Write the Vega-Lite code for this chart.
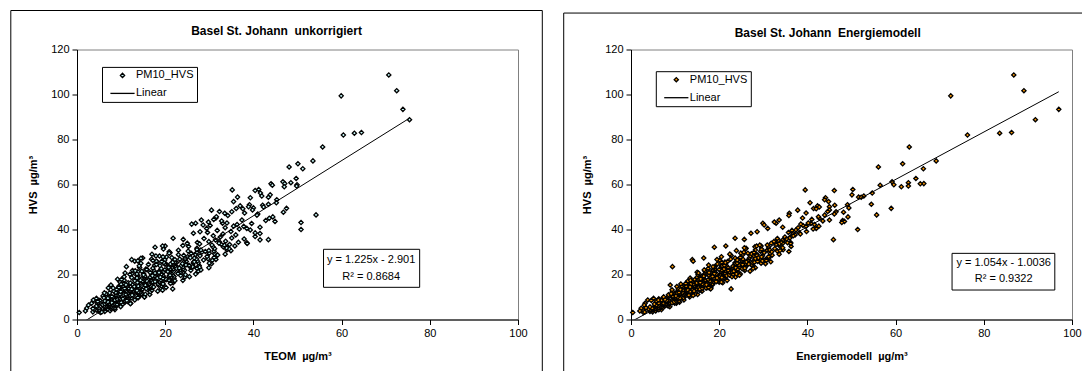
{
"$schema":"https://vega.github.io/schema/vega-lite/v6.json",
"padding":{"left":9,"top":9.5,"right":0,"bottom":0},
"background":"white",
"spacing":18,
"config":{
"view":{"stroke":"#808080","strokeWidth":1},
"font":"Liberation Sans",
"axis":{"labelFont":"Liberation Sans","labelFontSize":11,"labelColor":"black","titleFont":"Liberation Sans","titleFontSize":11,"titleFontWeight":"bold","titleColor":"black","domainColor":"black","tickColor":"black","tickSize":5,"grid":false,"labelPadding":3},
"title":{"font":"Liberation Sans","fontSize":12,"fontWeight":"bold","color":"black","anchor":"middle","frame":"bounds","baseline":"top"},
"legend":{"labelFont":"Liberation Sans","labelFontSize":11,"labelColor":"black"}
},
"resolve":{"scale":{"x":"independent","y":"independent","shape":"independent"},"legend":{"shape":"independent"}},
"datasets":{
"fitL":[{"t":0.5,"h":-2.29},{"t":75.4,"h":89.47}],
"fitR":[{"e":0.4,"h":-0.58},{"e":97.0,"h":101.23}],
"pm":[
{"t":0.5,"e":0.4,"h":3.1},{"t":2.2,"e":2.3,"h":5.0},{"t":3.3,"e":3.2,"h":7.2},{"t":2.6,"e":3.0,"h":6.4},{"t":4.4,"e":5.1,"h":9.4},{"t":3.7,"e":3.8,"h":8.7},{"t":5.2,"e":4.6,"h":8.5},{"t":1.9,"e":2.0,"h":3.8},
{"t":5.3,"e":2.8,"h":3.1},{"t":3.6,"e":4.9,"h":3.4},{"t":6.3,"e":4.3,"h":3.6},{"t":4.9,"e":5.6,"h":3.8},{"t":7.5,"e":2.9,"h":3.9},{"t":4.5,"e":5.0,"h":4.1},{"t":5.9,"e":4.3,"h":4.2},{"t":8.6,"e":6.9,"h":4.4},{"t":3.9,"e":4.9,"h":4.5},{"t":6.9,"e":5.8,"h":4.6},{"t":5.9,"e":4.0,"h":4.7},{"t":7.7,"e":6.4,"h":4.8},{"t":3.6,"e":5.6,"h":4.9},{"t":5.6,"e":3.1,"h":3.3},{"t":5.0,"e":6.3,"h":4.3},
{"t":8.5,"e":4.8,"h":5.0},{"t":4.9,"e":6.3,"h":5.1},{"t":6.6,"e":3.4,"h":5.2},{"t":8.1,"e":7.3,"h":5.3},{"t":4.5,"e":5.8,"h":5.4},{"t":7.7,"e":6.9,"h":5.5},{"t":6.5,"e":4.3,"h":5.6},{"t":9.9,"e":8.8,"h":5.7},{"t":6.1,"e":6.6,"h":5.8},{"t":7.5,"e":5.5,"h":5.9},{"t":4.4,"e":8.4,"h":6.0},{"t":9.0,"e":6.3,"h":6.1},{"t":7.3,"e":7.8,"h":6.2},{"t":8.6,"e":5.5,"h":6.3},{"t":5.8,"e":7.4,"h":6.4},{"t":8.2,"e":5.8,"h":6.5},{"t":5.8,"e":8.1,"h":6.6},{"t":9.1,"e":7.2,"h":6.7},{"t":7.3,"e":8.6,"h":6.8},{"t":10.4,"e":5.3,"h":6.9},
{"t":6.3,"e":7.9,"h":7.0},{"t":8.4,"e":6.9,"h":7.1},{"t":12.2,"e":10.3,"h":7.2},{"t":5.1,"e":7.5,"h":7.3},{"t":9.6,"e":8.7,"h":7.4},{"t":8.1,"e":6.1,"h":7.5},{"t":10.8,"e":9.4,"h":7.6},{"t":4.5,"e":8.3,"h":7.7},{"t":9.5,"e":7.0,"h":7.8},{"t":7.4,"e":10.3,"h":7.9},{"t":11.5,"e":7.6,"h":8.0},{"t":7.0,"e":9.2,"h":8.1},{"t":9.1,"e":5.8,"h":8.2},{"t":10.9,"e":10.4,"h":8.3},{"t":6.4,"e":8.6,"h":8.4},{"t":10.3,"e":9.9,"h":8.5},{"t":8.8,"e":6.9,"h":8.6},{"t":13.1,"e":12.0,"h":8.7},{"t":8.4,"e":9.4,"h":8.8},{"t":10.0,"e":8.1,"h":8.9},{"t":4.7,"e":9.9,"h":7.25},{"t":11.0,"e":8.1,"h":8.15},
{"t":9.5,"e":10.8,"h":9.0},{"t":11.5,"e":7.7,"h":9.1},{"t":7.2,"e":10.2,"h":9.2},{"t":10.7,"e":8.0,"h":9.3},{"t":7.2,"e":11.0,"h":9.4},{"t":12.0,"e":9.8,"h":9.5},{"t":9.2,"e":11.7,"h":9.6},{"t":13.9,"e":7.3,"h":9.7},{"t":8.2,"e":10.6,"h":9.8},{"t":10.7,"e":9.4,"h":9.9},{"t":15.3,"e":13.3,"h":10.0},{"t":6.8,"e":10.1,"h":10.1},{"t":12.1,"e":11.4,"h":10.2},{"t":10.3,"e":8.5,"h":10.3},{"t":13.5,"e":12.3,"h":10.4},{"t":5.9,"e":10.9,"h":10.5},{"t":12.0,"e":9.4,"h":10.6},{"t":9.4,"e":13.2,"h":10.7},{"t":14.3,"e":10.1,"h":10.8},{"t":8.9,"e":11.9,"h":10.9},{"t":9.8,"e":6.3,"h":9.15},{"t":12.4,"e":11.9,"h":9.65},{"t":7.4,"e":10.4,"h":10.25},{"t":12.3,"e":12.1,"h":10.75},
{"t":10.5,"e":8.5,"h":11.0},{"t":16.5,"e":15.1,"h":11.1},{"t":9.8,"e":11.8,"h":11.2},{"t":12.2,"e":10.1,"h":11.3},{"t":6.6,"e":14.5,"h":11.4},{"t":14.6,"e":11.1,"h":11.5},{"t":11.6,"e":13.4,"h":11.6},{"t":13.9,"e":9.9,"h":11.7},{"t":8.9,"e":12.7,"h":11.8},{"t":12.9,"e":10.3,"h":11.9},{"t":8.8,"e":13.6,"h":12.0},{"t":14.5,"e":12.3,"h":12.1},{"t":11.2,"e":14.3,"h":12.2},{"t":16.6,"e":9.4,"h":12.3},{"t":10.0,"e":13.1,"h":12.4},{"t":12.9,"e":11.7,"h":12.5},{"t":18.3,"e":16.1,"h":12.6},{"t":8.3,"e":12.5,"h":12.7},{"t":14.5,"e":14.0,"h":12.8},{"t":12.3,"e":10.7,"h":12.9},{"t":14.7,"e":13.3,"h":11.35},{"t":6.2,"e":12.2,"h":11.85},{"t":13.7,"e":11.0,"h":12.45},{"t":11.0,"e":15.6,"h":12.95},
{"t":17.0,"e":11.9,"h":13.0},{"t":10.0,"e":14.2,"h":13.1},{"t":13.1,"e":9.3,"h":13.2},{"t":16.0,"e":15.8,"h":13.3},{"t":9.0,"e":13.3,"h":13.4},{"t":14.9,"e":15.0,"h":13.5},{"t":12.5,"e":10.7,"h":13.6},{"t":19.1,"e":18.0,"h":13.7},{"t":11.8,"e":14.2,"h":13.8},{"t":14.3,"e":12.3,"h":13.9},{"t":8.2,"e":17.2,"h":14.0},{"t":17.0,"e":13.5,"h":14.1},{"t":13.7,"e":16.0,"h":14.2},{"t":16.2,"e":12.1,"h":14.3},{"t":10.7,"e":15.2,"h":14.4},{"t":15.1,"e":12.5,"h":14.5},{"t":10.6,"e":16.2,"h":14.6},{"t":16.9,"e":14.7,"h":14.7},{"t":13.2,"e":17.0,"h":14.8},{"t":19.2,"e":11.5,"h":14.9},{"t":10.4,"e":13.9,"h":13.25},{"t":13.9,"e":12.8,"h":13.75},{"t":20.2,"e":18.1,"h":14.25},{"t":9.5,"e":14.3,"h":14.75},{"t":21.7,"e":22.7,"h":13.6},
{"t":16.7,"e":16.3,"h":15.0},{"t":14.0,"e":12.2,"h":15.1},{"t":18.5,"e":17.4,"h":15.2},{"t":7.7,"e":8.9,"h":15.3},{"t":16.3,"e":13.4,"h":15.4},{"t":12.6,"e":18.5,"h":15.5},{"t":19.5,"e":14.2,"h":15.6},{"t":11.8,"e":16.7,"h":15.7},{"t":15.3,"e":11.3,"h":15.8},{"t":18.4,"e":18.5,"h":15.9},{"t":10.7,"e":15.7,"h":16.0},{"t":17.2,"e":17.5,"h":16.1},{"t":14.6,"e":12.8,"h":16.2},{"t":21.8,"e":20.8,"h":16.3},{"t":13.7,"e":16.7,"h":16.4},{"t":16.5,"e":14.6,"h":16.5},{"t":9.8,"e":20.0,"h":16.6},{"t":19.4,"e":15.9,"h":16.7},{"t":15.7,"e":18.7,"h":16.8},{"t":18.5,"e":14.3,"h":16.9},{"t":11.2,"e":16.2,"h":15.35},{"t":16.3,"e":13.6,"h":15.85},{"t":11.6,"e":18.0,"h":16.35},{"t":18.8,"e":16.7,"h":16.85},
{"t":14.8,"e":19.5,"h":17.0},{"t":21.9,"e":12.9,"h":17.1},{"t":13.1,"e":17.8,"h":17.2},{"t":16.9,"e":15.9,"h":17.3},{"t":24.0,"e":21.8,"h":17.4},{"t":10.7,"e":16.8,"h":17.5},{"t":19.0,"e":18.9,"h":17.6},{"t":16.1,"e":14.4,"h":17.7},{"t":21.0,"e":20.0,"h":17.8},{"t":9.2,"e":17.9,"h":17.9},{"t":18.5,"e":15.6,"h":18.0},{"t":14.6,"e":21.2,"h":18.1},{"t":22.0,"e":16.5,"h":18.2},{"t":13.6,"e":19.3,"h":18.3},{"t":17.4,"e":13.4,"h":18.4},{"t":20.8,"e":21.1,"h":18.5},{"t":12.4,"e":18.1,"h":18.6},{"t":19.5,"e":20.1,"h":18.7},{"t":16.6,"e":15.0,"h":18.8},{"t":24.5,"e":23.7,"h":18.9},{"t":14.4,"e":17.8,"h":17.45},{"t":18.2,"e":16.3,"h":18.45},
{"t":10.7,"e":22.9,"h":19.0},{"t":22.0,"e":18.0,"h":19.1},{"t":17.6,"e":21.3,"h":19.2},{"t":20.9,"e":16.1,"h":19.3},{"t":13.8,"e":20.1,"h":19.4},{"t":19.5,"e":16.6,"h":19.5},{"t":13.6,"e":21.4,"h":19.6},{"t":21.7,"e":19.4,"h":19.7},{"t":16.9,"e":22.3,"h":19.8},{"t":24.6,"e":15.2,"h":19.9},{"t":15.1,"e":20.4,"h":20.0},{"t":19.2,"e":18.5,"h":20.1},{"t":26.9,"e":24.8,"h":20.2},{"t":12.5,"e":19.4,"h":20.3},{"t":21.4,"e":21.6,"h":20.4},{"t":18.3,"e":16.8,"h":20.5},{"t":23.6,"e":22.8,"h":20.6},{"t":10.9,"e":20.6,"h":20.7},{"t":21.0,"e":18.1,"h":20.8},{"t":16.6,"e":24.2,"h":20.9},{"t":23.5,"e":17.7,"h":19.55},{"t":15.1,"e":21.4,"h":20.45},
{"t":19.5,"e":15.0,"h":21.0},{"t":23.4,"e":24.1,"h":21.1},{"t":13.8,"e":20.5,"h":21.2},{"t":21.9,"e":22.8,"h":21.3},{"t":18.6,"e":16.8,"h":21.4},{"t":27.5,"e":27.0,"h":21.5},{"t":17.5,"e":21.7,"h":21.6},{"t":20.9,"e":19.0,"h":21.7},{"t":12.6,"e":25.8,"h":21.8},{"t":24.4,"e":20.6,"h":21.9},{"t":19.9,"e":24.1,"h":22.0},{"t":23.4,"e":18.6,"h":22.1},{"t":15.9,"e":22.9,"h":22.2},{"t":21.8,"e":19.0,"h":22.3},{"t":15.6,"e":24.2,"h":22.4},{"t":24.1,"e":22.0,"h":22.5},{"t":19.1,"e":25.2,"h":22.6},{"t":27.2,"e":17.5,"h":22.7},{"t":17.2,"e":23.1,"h":22.8},{"t":21.5,"e":21.0,"h":22.9},
{"t":29.9,"e":28.2,"h":23.0},{"t":14.2,"e":22.0,"h":23.1},{"t":24.0,"e":24.6,"h":23.3},{"t":20.6,"e":19.0,"h":23.4},{"t":26.4,"e":26.0,"h":23.5},{"t":11.2,"e":9.4,"h":23.5},{"t":23.6,"e":20.5,"h":23.8},{"t":18.8,"e":27.5,"h":23.9},{"t":27.7,"e":21.6,"h":24.0},{"t":17.6,"e":25.0,"h":24.1},{"t":22.1,"e":17.6,"h":24.2},{"t":26.2,"e":27.4,"h":24.4},{"t":16.2,"e":23.6,"h":24.5},{"t":24.7,"e":26.1,"h":24.6},{"t":21.2,"e":19.6,"h":24.7},{"t":30.5,"e":30.5,"h":24.8},{"t":20.1,"e":24.9,"h":24.9},{"t":22.5,"e":20.6,"h":23.6},
{"t":14.5,"e":29.5,"h":25.0},{"t":27.5,"e":23.6,"h":25.2},{"t":22.6,"e":27.5,"h":25.3},{"t":26.4,"e":21.3,"h":25.5},{"t":18.2,"e":26.2,"h":25.6},{"t":24.8,"e":21.9,"h":25.8},{"t":18.0,"e":27.8,"h":25.9},{"t":27.3,"e":25.3,"h":26.0},{"t":21.9,"e":29.0,"h":26.2},{"t":30.7,"e":20.1,"h":26.3},{"t":19.9,"e":26.7,"h":26.5},{"t":24.5,"e":24.3,"h":26.6},{"t":31.5,"e":30.5,"h":26.7},{"t":16.9,"e":25.4,"h":26.8},{"t":27.1,"e":28.1,"h":26.9},{"t":22.2,"e":20.6,"h":25.4},{"t":12.4,"e":13.9,"h":26.6},{"t":13.1,"e":14.1,"h":25.9},{"t":14.9,"e":16.5,"h":27.3},
{"t":29.7,"e":29.5,"h":27.0},{"t":14.5,"e":26.8,"h":27.2},{"t":26.6,"e":23.6,"h":27.3},{"t":21.5,"e":31.3,"h":27.5},{"t":31.1,"e":24.8,"h":27.6},{"t":20.3,"e":28.7,"h":27.8},{"t":25.1,"e":20.5,"h":27.9},{"t":29.5,"e":31.2,"h":28.0},{"t":18.7,"e":27.1,"h":28.2},{"t":27.9,"e":29.8,"h":28.3},{"t":24.2,"e":22.7,"h":28.5},{"t":31.8,"e":32.0,"h":28.6},{"t":23.0,"e":28.6,"h":28.8},{"t":26.9,"e":25.4,"h":28.9},
{"t":17.0,"e":33.6,"h":29.0},{"t":31.2,"e":27.3,"h":29.2},{"t":25.9,"e":31.6,"h":29.4},{"t":30.0,"e":24.9,"h":29.5},{"t":21.1,"e":30.2,"h":29.7},{"t":28.3,"e":25.6,"h":29.9},{"t":20.9,"e":31.9,"h":30.1},{"t":31.1,"e":29.4,"h":30.3},{"t":25.2,"e":33.2,"h":30.4},{"t":34.9,"e":23.9,"h":30.6},{"t":23.0,"e":30.9,"h":30.8},{"t":28.1,"e":28.2,"h":30.9},
{"t":34.0,"e":34.5,"h":31.0},{"t":19.6,"e":29.6,"h":31.3},{"t":31.2,"e":32.6,"h":31.5},{"t":27.2,"e":26.1,"h":31.7},{"t":34.1,"e":34.4,"h":31.9},{"t":17.7,"e":18.9,"h":32.1},{"t":30.8,"e":28.1,"h":32.3},{"t":25.3,"e":36.3,"h":32.5},{"t":35.8,"e":29.5,"h":32.7},{"t":24.0,"e":33.6,"h":32.9},
{"t":12.1,"e":7.4,"h":7.05},{"t":6.9,"e":6.3,"h":7.25},{"t":7.9,"e":9.3,"h":7.45},{"t":10.0,"e":11.0,"h":7.65},{"t":7.0,"e":9.8,"h":7.85},{"t":4.7,"e":10.4,"h":8.05},{"t":6.3,"e":10.9,"h":8.25},{"t":11.3,"e":8.1,"h":8.45},{"t":8.6,"e":6.2,"h":8.65},{"t":9.2,"e":7.7,"h":8.85},
{"t":9.8,"e":10.4,"h":9.05},{"t":10.4,"e":10.7,"h":9.25},{"t":7.0,"e":11.1,"h":9.45},{"t":6.1,"e":10.1,"h":9.65},{"t":13.8,"e":10.5,"h":9.85},{"t":15.3,"e":7.4,"h":10.05},{"t":7.9,"e":9.5,"h":10.25},{"t":11.2,"e":10.2,"h":10.45},{"t":12.1,"e":14.1,"h":10.65},{"t":12.5,"e":13.1,"h":10.85},
{"t":11.1,"e":11.9,"h":11.05},{"t":15.5,"e":9.2,"h":11.25},{"t":14.6,"e":9.1,"h":11.45},{"t":14.2,"e":11.8,"h":11.65},{"t":7.4,"e":10.5,"h":11.85},{"t":14.3,"e":10.9,"h":12.05},{"t":13.9,"e":12.9,"h":12.25},{"t":9.9,"e":13.4,"h":12.45},{"t":11.1,"e":14.3,"h":12.65},{"t":13.6,"e":12.6,"h":12.85},
{"t":19.4,"e":12.9,"h":13.05},{"t":10.9,"e":11.2,"h":13.25},{"t":12.4,"e":15.6,"h":13.45},{"t":15.7,"e":18.1,"h":13.65},{"t":10.8,"e":16.2,"h":13.85},{"t":7.1,"e":17.0,"h":14.05},{"t":9.5,"e":17.6,"h":14.25},{"t":17.4,"e":13.4,"h":14.45},{"t":13.0,"e":10.4,"h":14.65},{"t":13.9,"e":12.5,"h":14.85},
{"t":14.7,"e":16.3,"h":15.05},{"t":15.5,"e":16.7,"h":15.25},{"t":11.1,"e":17.1,"h":15.45},{"t":10.0,"e":15.8,"h":15.65},{"t":19.5,"e":16.2,"h":15.85},{"t":21.2,"e":12.4,"h":16.05},{"t":12.1,"e":14.9,"h":16.25},{"t":16.1,"e":15.7,"h":16.45},{"t":17.2,"e":20.5,"h":16.65},{"t":17.7,"e":19.3,"h":16.85},
{"t":15.9,"e":17.9,"h":17.05},{"t":22.2,"e":13.8,"h":17.25},{"t":20.8,"e":13.5,"h":17.45},{"t":20.2,"e":17.5,"h":17.65},{"t":10.1,"e":15.4,"h":17.85},{"t":20.1,"e":15.8,"h":18.05},{"t":19.5,"e":18.8,"h":18.25},{"t":13.6,"e":19.5,"h":18.45},{"t":15.3,"e":20.6,"h":18.65},{"t":18.9,"e":18.1,"h":18.85},
{"t":25.5,"e":18.5,"h":19.05},{"t":15.4,"e":16.5,"h":19.25},{"t":17.1,"e":21.7,"h":19.45},{"t":21.1,"e":24.6,"h":19.65},{"t":15.1,"e":22.3,"h":19.85},{"t":12.0,"e":23.2,"h":20.05},{"t":13.6,"e":23.9,"h":20.25},{"t":22.9,"e":18.9,"h":20.45},{"t":17.7,"e":15.3,"h":20.65},{"t":18.6,"e":17.7,"h":20.85},
{"t":19.6,"e":22.4,"h":21.05},{"t":20.6,"e":22.9,"h":21.25},{"t":14.7,"e":23.3,"h":21.45},{"t":13.2,"e":21.5,"h":21.65},{"t":25.8,"e":22.0,"h":21.85},{"t":28.1,"e":16.6,"h":22.05},{"t":15.8,"e":20.0,"h":22.25},{"t":21.1,"e":21.1,"h":22.45},{"t":22.6,"e":27.7,"h":22.65},{"t":23.2,"e":25.8,"h":22.85},
{"t":20.8,"e":23.7,"h":23.05},{"t":27.8,"e":18.9,"h":23.25},{"t":26.2,"e":18.6,"h":23.45},{"t":25.5,"e":23.1,"h":23.65},{"t":14.1,"e":20.7,"h":23.85},{"t":25.4,"e":21.2,"h":24.05},{"t":24.7,"e":24.5,"h":24.25},{"t":18.0,"e":25.3,"h":24.45},{"t":19.9,"e":26.7,"h":24.65},{"t":23.9,"e":23.7,"h":24.85},
{"t":30.0,"e":24.1,"h":25.05},{"t":19.7,"e":21.4,"h":25.25},{"t":21.7,"e":28.0,"h":25.45},{"t":26.6,"e":31.7,"h":25.65},{"t":19.2,"e":28.7,"h":25.85},{"t":13.8,"e":29.8,"h":26.05},{"t":17.2,"e":30.7,"h":26.25},{"t":28.7,"e":24.1,"h":26.45},{"t":22.2,"e":19.5,"h":26.65},{"t":23.3,"e":22.6,"h":26.85},
{"t":24.5,"e":28.2,"h":27.05},{"t":25.7,"e":28.9,"h":27.45},{"t":19.5,"e":29.6,"h":27.85},{"t":17.9,"e":27.8,"h":28.25},{"t":31.9,"e":28.5,"h":28.65},{"t":33.6,"e":22.4,"h":29.05},{"t":20.9,"e":26.5,"h":29.45},{"t":27.2,"e":27.9,"h":29.85},{"t":29.1,"e":35.8,"h":30.25},{"t":29.9,"e":33.8,"h":30.65},
{"t":27.2,"e":31.4,"h":31.05},{"t":34.5,"e":26.0,"h":31.45},{"t":33.9,"e":25.7,"h":31.85},{"t":33.2,"e":31.2,"h":32.25},{"t":20.0,"e":28.5,"h":32.65},{"t":33.4,"e":29.2,"h":33.05},{"t":32.7,"e":33.4,"h":33.45},{"t":25.0,"e":34.4,"h":33.85},{"t":27.3,"e":36.2,"h":34.25},{"t":32.2,"e":32.8,"h":34.65},
{"t":35.2,"e":39.5,"h":57.6},{"t":40.4,"e":46.1,"h":57.3},{"t":41.2,"e":50.3,"h":57.8},{"t":41.6,"e":54.7,"h":56.2},{"t":43.8,"e":50.1,"h":55.4},{"t":41.9,"e":52.8,"h":54.9},{"t":36.4,"e":51.6,"h":54.4},{"t":43.4,"e":52.2,"h":54.3},{"t":39.3,"e":44.1,"h":54.1},{"t":45.3,"e":43.9,"h":53.2},{"t":35.5,"e":44.8,"h":52.4},{"t":45.2,"e":40.6,"h":51.9},{"t":43.4,"e":54.5,"h":51.2},{"t":39.1,"e":49.1,"h":51.0},{"t":42.1,"e":46.2,"h":50.8},{"t":37.0,"e":42.3,"h":50.5},{"t":38.9,"e":45.0,"h":50.1},{"t":42.3,"e":42.7,"h":50.0},{"t":36.1,"e":41.4,"h":49.3},{"t":47.5,"e":59.0,"h":49.4},{"t":40.0,"e":49.4,"h":49.6},{"t":37.6,"e":42.0,"h":49.2},{"t":39.8,"e":45.0,"h":48.7},{"t":30.5,"e":37.8,"h":48.6},{"t":32.3,"e":44.6,"h":48.0},{"t":35.1,"e":46.5,"h":47.9},{"t":46.8,"e":48.2,"h":47.7},{"t":33.5,"e":35.9,"h":47.2},{"t":38.0,"e":39.7,"h":47.3},{"t":41.0,"e":46.1,"h":46.9},{"t":54.2,"e":55.7,"h":46.5},{"t":34.2,"e":35.8,"h":46.2},{"t":40.8,"e":43.9,"h":46.4},{"t":44.4,"e":49.2,"h":45.6},{"t":31.5,"e":38.9,"h":45.1},{"t":43.6,"e":42.7,"h":45.0},{"t":37.4,"e":45.0,"h":44.2},{"t":42.8,"e":48.0,"h":44.0},{"t":44.9,"e":48.4,"h":43.6},{"t":50.8,"e":47.8,"h":43.1},{"t":36.3,"e":41.6,"h":42.2},{"t":39.6,"e":40.8,"h":42.7},{"t":33.0,"e":32.9,"h":42.8},{"t":37.8,"e":39.7,"h":41.4},{"t":41.5,"e":34.4,"h":41.0},{"t":38.5,"e":42.0,"h":40.5},{"t":50.8,"e":51.4,"h":40.0},{"t":39.3,"e":37.4,"h":39.8},{"t":40.4,"e":38.2,"h":38.5},{"t":41.5,"e":36.8,"h":38.2},{"t":40.4,"e":36.3,"h":36.9},{"t":41.5,"e":34.8,"h":35.4},{"t":43.4,"e":45.9,"h":35.5},{"t":38.5,"e":35.5,"h":34.1},
{"t":31.0,"e":41.0,"h":44.5},{"t":32.8,"e":43.5,"h":43.8},{"t":34.0,"e":40.2,"h":42.9},{"t":30.2,"e":39.0,"h":41.8},{"t":35.5,"e":42.6,"h":41.5},{"t":33.6,"e":37.9,"h":40.8},{"t":36.8,"e":41.3,"h":40.2},{"t":31.8,"e":36.5,"h":39.6},{"t":34.9,"e":39.8,"h":39.1},{"t":29.6,"e":35.7,"h":38.7},{"t":33.1,"e":38.4,"h":38.0},{"t":36.0,"e":37.2,"h":37.6},{"t":30.9,"e":36.8,"h":37.2},{"t":32.5,"e":34.9,"h":36.7},{"t":35.1,"e":36.0,"h":36.2},{"t":28.8,"e":33.2,"h":36.0},{"t":37.9,"e":35.3,"h":35.8},{"t":31.4,"e":34.4,"h":35.3},{"t":33.7,"e":33.5,"h":34.8},{"t":29.9,"e":32.4,"h":34.6},{"t":36.6,"e":34.0,"h":34.3},{"t":32.2,"e":31.8,"h":33.9},{"t":27.8,"e":33.6,"h":33.6},{"t":34.6,"e":32.9,"h":33.3},{"t":30.6,"e":30.9,"h":33.1},{"t":38.6,"e":36.2,"h":33.8},{"t":31.6,"e":42.5,"h":45.7},{"t":26.0,"e":38.5,"h":42.4},
{"t":19.4,"e":21.5,"h":32.7},{"t":21.8,"e":23.6,"h":36.1},{"t":24.1,"e":25.7,"h":35.6},{"t":26.4,"e":27.2,"h":38.3},{"t":26.9,"e":29.9,"h":42.8},{"t":28.6,"e":30.2,"h":42.0},{"t":28.2,"e":33.6,"h":44.2},{"t":27.9,"e":28.6,"h":39.0},{"t":29.4,"e":31.0,"h":40.5},{"t":29.8,"e":32.5,"h":43.3},
{"t":55.7,"e":63.1,"h":76.7},{"t":53.5,"e":69.2,"h":70.5},{"t":50.1,"e":61.6,"h":69.2},{"t":48.1,"e":56.1,"h":67.8},{"t":51.2,"e":66.3,"h":67.0},{"t":49.7,"e":64.6,"h":62.7},{"t":48.5,"e":62.9,"h":60.8},{"t":46.7,"e":59.2,"h":61.2},{"t":47.1,"e":66.4,"h":60.4},{"t":44.0,"e":65.6,"h":60.3},{"t":49.9,"e":59.6,"h":59.9},{"t":49.8,"e":62.9,"h":59.3},{"t":47.0,"e":61.3,"h":59.0},{"t":44.3,"e":56.5,"h":59.7},
{"t":70.7,"e":86.8,"h":108.7},{"t":72.5,"e":89.1,"h":101.7},{"t":73.9,"e":97.0,"h":93.4},{"t":75.4,"e":91.7,"h":88.8},{"t":59.9,"e":72.5,"h":99.4},{"t":60.4,"e":76.3,"h":82.0},{"t":62.9,"e":83.6,"h":82.8},{"t":64.5,"e":86.3,"h":83.1}
]
},
"hconcat":[
{
"width":441,"height":270,
"title":{"text":"Basel St. Johann\u00a0 unkorrigiert","offset":-27.5},
"layer":[
{"data":{"values":[{}]},"mark":{"type":"rule","color":"black","strokeWidth":1},"encoding":{"x":{"datum":-15.01,"type":"quantitative"},"y":{"datum":-22.89,"type":"quantitative"},"y2":{"datum":137.33}}},
{"data":{"values":[{}]},"mark":{"type":"rule","color":"black","strokeWidth":1},"encoding":{"x":{"datum":105.51,"type":"quantitative"},"y":{"datum":-22.89,"type":"quantitative"},"y2":{"datum":137.33}}},
{"data":{"values":[{}]},"mark":{"type":"rule","color":"black","strokeWidth":1},"encoding":{"x":{"datum":-15.01,"type":"quantitative"},"x2":{"datum":105.51},"y":{"datum":137.33,"type":"quantitative"}}},
{"data":{"name":"pm"},
"mark":{"type":"point","filled":true,"fill":"#CCFFFF","stroke":"black","strokeWidth":1.3,"size":18,"opacity":1},
"encoding":{
"x":{"field":"t","type":"quantitative","scale":{"domain":[0,100],"nice":false,"zero":false},"axis":{"title":"TEOM\u00a0 µg/m³","values":[0,20,40,60,80,100],"titlePadding":12,"labelFlush":false}},
"y":{"field":"h","type":"quantitative","scale":{"domain":[0,120],"nice":false,"zero":false},"axis":{"title":"HVS\u00a0 µg/m³","values":[0,20,40,60,80,100,120],"titlePadding":12}},
"shape":{"datum":"PM10_HVS","scale":{"domain":["PM10_HVS","Linear"],"range":["diamond","M-5.7,0H5.7"]},
"legend":{"title":null,"orient":"none","legendX":25,"legendY":17.4,"padding":3,"rowPadding":6,"symbolOffset":12,"labelOffset":8,"strokeColor":"black","fillColor":"white","symbolSize":18,"symbolStrokeWidth":1.3,"symbolStrokeColor":"black","symbolFillColor":"#CCFFFF","labelFontSize":11,
"encoding":{"symbols":{"stroke":{"value":"black"},"strokeWidth":{"value":1.3},"fill":{"value":"#CCFFFF"},"opacity":{"value":1}}}}}
}},
{"data":{"name":"fitL"},"mark":{"type":"line","color":"black","strokeWidth":1,"clip":true},"encoding":{"x":{"field":"t","type":"quantitative"},"y":{"field":"h","type":"quantitative"}}},
{"data":{"values":[{}]},"mark":{"type":"rect","fill":"white","stroke":"black","strokeWidth":1},"encoding":{"x":{"datum":55.9,"type":"quantitative"},"x2":{"datum":77.7},"y":{"datum":31.2,"type":"quantitative"},"y2":{"datum":14.3}}},
{"data":{"values":[{}]},"mark":{"type":"text","text":["y = 1.225x - 2.901","R² = 0.8684"],"font":"Liberation Sans","fontSize":11,"align":"center","baseline":"middle","lineHeight":16.5,"color":"black"},"encoding":{"x":{"datum":66.7,"type":"quantitative"},"y":{"datum":26.4,"type":"quantitative"}}}
]
},
{
"width":441,"height":270,
"title":{"text":"Basel St. Johann\u00a0 Energiemodell","offset":-27,"dx":4},
"layer":[
{"data":{"values":[{}]},"mark":{"type":"rule","color":"black","strokeWidth":1},"encoding":{"x":{"datum":-15.26,"type":"quantitative"},"y":{"datum":-22.89,"type":"quantitative"},"y2":{"datum":136.2}}},
{"data":{"values":[{}]},"mark":{"type":"rule","color":"black","strokeWidth":1},"encoding":{"x":{"datum":-15.26,"type":"quantitative"},"x2":{"datum":102.65},"y":{"datum":136.2,"type":"quantitative"}}},
{"data":{"name":"pm"},
"mark":{"type":"point","filled":true,"fill":"#FF9900","stroke":"black","strokeWidth":1.3,"size":18,"opacity":1},
"encoding":{
"x":{"field":"e","type":"quantitative","scale":{"domain":[0,100],"nice":false,"zero":false},"axis":{"title":"Energiemodell\u00a0 µg/m³","values":[0,20,40,60,80,100],"titlePadding":12,"labelFlush":false}},
"y":{"field":"h","type":"quantitative","scale":{"domain":[0,120],"nice":false,"zero":false},"axis":{"title":"HVS\u00a0 µg/m³","values":[0,20,40,60,80,100,120],"titlePadding":12}},
"shape":{"datum":"PM10_HVS","scale":{"domain":["PM10_HVS","Linear"],"range":["diamond","M-5.7,0H5.7"]},
"legend":{"title":null,"orient":"none","legendX":24.8,"legendY":21.7,"padding":3,"rowPadding":6,"symbolOffset":12,"labelOffset":8,"strokeColor":"black","fillColor":"white","symbolSize":18,"symbolStrokeWidth":1.3,"symbolStrokeColor":"black","symbolFillColor":"#FF9900","labelFontSize":11,
"encoding":{"symbols":{"stroke":{"value":"black"},"strokeWidth":{"value":1.3},"fill":{"value":"#FF9900"},"opacity":{"value":1}}}}}
}},
{"data":{"name":"fitR"},"mark":{"type":"line","color":"black","strokeWidth":1,"clip":true},"encoding":{"x":{"field":"e","type":"quantitative"},"y":{"field":"h","type":"quantitative"}}},
{"data":{"values":[{}]},"mark":{"type":"rect","fill":"white","stroke":"black","strokeWidth":1},"encoding":{"x":{"datum":72.8,"type":"quantitative"},"x2":{"datum":96.1},"y":{"datum":29.4,"type":"quantitative"},"y2":{"datum":13.1}}},
{"data":{"values":[{}]},"mark":{"type":"text","text":["y = 1.054x - 1.0036","R² = 0.9322"],"font":"Liberation Sans","fontSize":11,"align":"center","baseline":"middle","lineHeight":16.5,"color":"black"},"encoding":{"x":{"datum":84.5,"type":"quantitative"},"y":{"datum":25.2,"type":"quantitative"}}}
]
}
]
}
